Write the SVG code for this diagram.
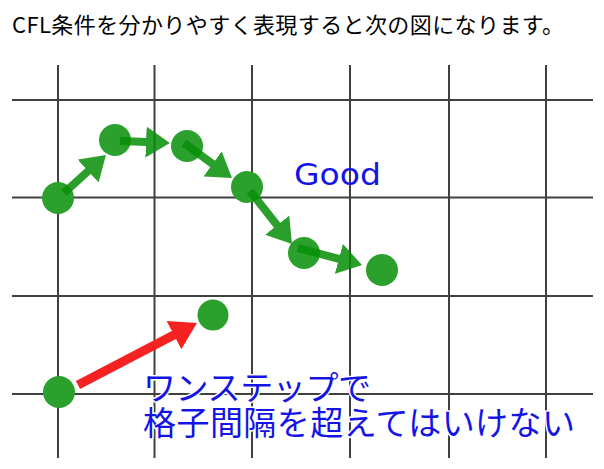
<svg xmlns="http://www.w3.org/2000/svg" width="604" height="469" viewBox="0 0 604 469">
  <style>
    .grid line { stroke: #404040; stroke-width: 2; }
    .dot { fill: #2ca02c; }
    .g-arrow { stroke: #078f07; stroke-width: 8; fill: none; stroke-linecap: butt; }
    .r-arrow { stroke: #f52222; stroke-width: 9; fill: none; stroke-linecap: butt; }
    .title { font-family: "Noto Sans CJK JP", "Noto Sans", sans-serif; font-size: 22px; fill: #000; }
    .good { font-family: "DejaVu Sans", sans-serif; font-size: 31px; fill: #1414e6; }
    .note { font-family: "Noto Sans CJK JP", sans-serif; font-size: 33px; fill: #1414e6; stroke: #fff; stroke-width: 3; paint-order: stroke; stroke-linejoin: round; }
  </style>
  <defs>
    <marker id="gh" markerUnits="userSpaceOnUse" markerWidth="24" markerHeight="31" viewBox="0 0 24 31" refX="1" refY="15.5" orient="auto">
      <path d="M0,0 L24,15.5 L0,31 z" fill="#078f07"/>
    </marker>
    <marker id="rh" markerUnits="userSpaceOnUse" markerWidth="26" markerHeight="32" viewBox="0 0 26 32" refX="1" refY="16" orient="auto">
      <path d="M0,0 L26,16 L0,32 z" fill="#f52222"/>
    </marker>
  </defs>
  <rect width="604" height="469" fill="#fff"/>
  <text class="title" x="12" y="33" textLength="552" lengthAdjust="spacing">CFL条件を分かりやすく表現すると次の図になります。</text>

  <g class="grid" id="grid">
    <line x1="58" y1="65" x2="58" y2="458"/>
    <line x1="154.5" y1="65" x2="154.5" y2="458"/>
    <line x1="252" y1="65" x2="252" y2="458"/>
    <line x1="350" y1="65" x2="350" y2="458"/>
    <line x1="449" y1="65" x2="449" y2="458"/>
    <line x1="546" y1="65" x2="546" y2="458"/>
    <line x1="12" y1="100" x2="593" y2="100"/>
    <line x1="12" y1="197.5" x2="593" y2="197.5"/>
    <line x1="12" y1="296" x2="593" y2="296"/>
    <line x1="12" y1="394" x2="593" y2="394"/>
  </g>

  <g id="p1"><circle class="dot" cx="58" cy="198" r="16"/></g>
  <g id="p2"><circle class="dot" cx="115" cy="140" r="16"/></g>
  <g id="p3"><circle class="dot" cx="187" cy="146" r="16"/></g>
  <g id="p4"><circle class="dot" cx="247" cy="187" r="16"/></g>
  <g id="p5"><circle class="dot" cx="304" cy="253" r="16"/></g>
  <g id="p6"><circle class="dot" cx="382" cy="270" r="16"/></g>
  <g id="q1"><circle class="dot" cx="59" cy="392" r="16"/></g>
  <g id="q2"><circle class="dot" cx="213" cy="315" r="15.5"/></g>

  <g id="connectors">
    <g opacity="0.85">
      <line class="g-arrow" x1="64" y1="193" x2="88.9" y2="170.4" marker-end="url(#gh)"/>
      <line class="g-arrow" x1="120" y1="141" x2="147" y2="142.1" marker-end="url(#gh)"/>
      <line class="g-arrow" x1="184" y1="143" x2="213.4" y2="164.5" marker-end="url(#gh)"/>
      <line class="g-arrow" x1="250" y1="191" x2="277.7" y2="226" marker-end="url(#gh)"/>
      <line class="g-arrow" x1="298" y1="248" x2="339.8" y2="259.1" marker-end="url(#gh)"/>
    </g>
    <line class="r-arrow" x1="78" y1="385" x2="174.8" y2="334.6" marker-end="url(#rh)"/>
  </g>

  <g id="label-good"><text class="good" x="294" y="185" textLength="87" lengthAdjust="spacingAndGlyphs">Good</text></g>
  <g id="label-note">
    <text class="note" x="143" y="400" textLength="228" lengthAdjust="spacing">ワンステップで</text>
    <text class="note" x="143" y="435" textLength="432" lengthAdjust="spacing">格子間隔を超えてはいけない</text>
  </g>
</svg>
